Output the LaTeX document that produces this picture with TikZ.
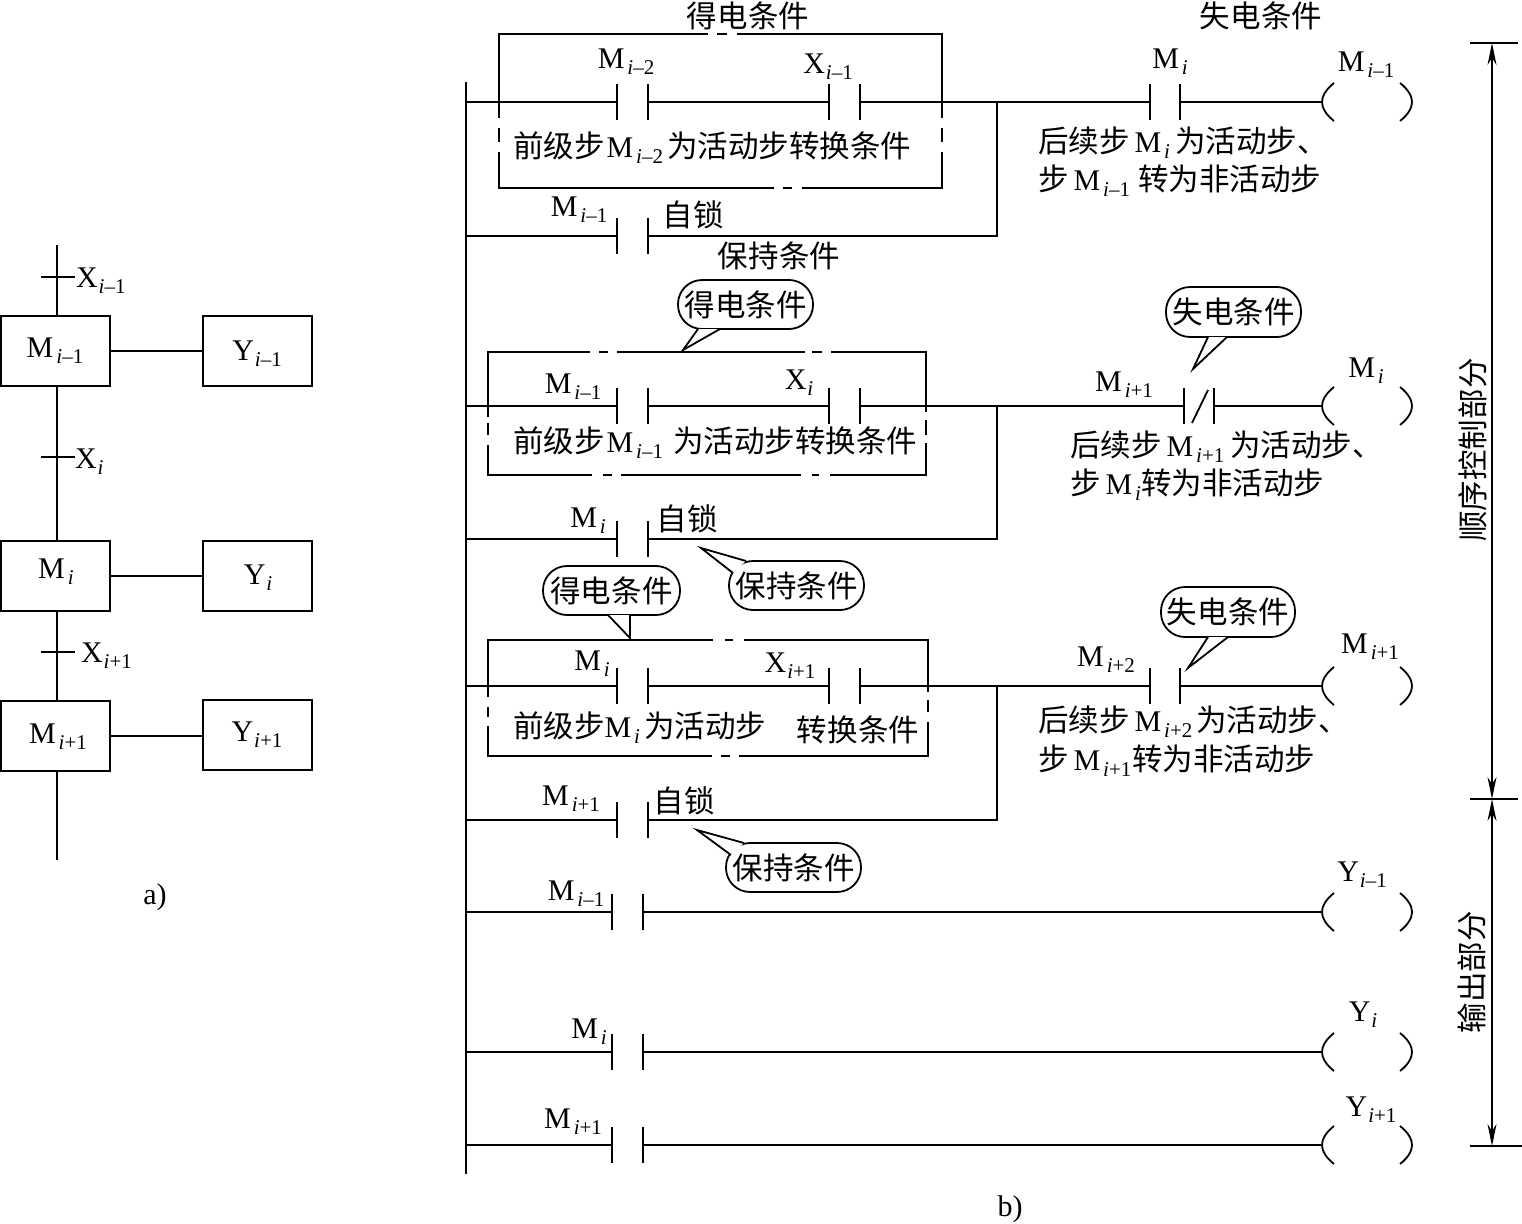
\documentclass[tikz,border=0pt]{standalone}
\usepackage{fontspec}
\setmainfont{Liberation Serif}
\newfontfamily\cjk[Scale=1.017]{Noto Sans CJK SC}
\usetikzlibrary{arrows.meta,calc}
\newcommand{\sbs}[1]{\raisebox{-6pt}{\fontsize{21}{21}\selectfont\textit{i}#1}}
\newcommand{\Ma}[1]{M\hspace{3pt}\sbs{#1}}
\newcommand{\Xa}[1]{X\hspace{1pt}\sbs{#1}}
\newcommand{\Ya}[1]{Y\hspace{1pt}\sbs{#1}}
\newcommand{\zh}[1]{{\cjk #1}}
\newcommand{\contact}[4]{%
  \coordinate (#1l) at (#2,#4);\coordinate (#1r) at (#3,#4);
  \draw[ln] ($(#1l)+(0,-18)$) -- ($(#1l)+(0,18)$);
  \draw[ln] ($(#1r)+(0,-18)$) -- ($(#1r)+(0,18)$);}
\newcommand{\coil}[2]{%
  \coordinate (#1) at (1322,#2);
  \draw[ln] (1334,#2-19) .. controls (1325,#2-12) and (1322,#2-5) .. (#1)
     .. controls (1322,#2+5) and (1325,#2+12) .. (1334,#2+19);
  \draw[ln] (1400,#2-19) .. controls (1409,#2-12) and (1412,#2-5) .. (1412,#2)
     .. controls (1412,#2+5) and (1409,#2+12) .. (1400,#2+19);}
\newcommand{\callout}[7]{% name, x1,y1,x2,y2, text, tail
  \node[bubble,minimum width=#4-#2,minimum height=#5-#3] (#1) at ({(#2+#4)/2},{(#3+#5)/2}) {\zh{#6}};
  \fill[white] #7;
  \draw[ln] #7;}
\tikzset{
  x=1pt,y=-1pt,
  every node/.style={font=\fontsize{30}{34}\selectfont,inner sep=0pt,outer sep=0pt,text=black},
  ln/.style={line width=1.8pt,draw=black,line join=miter},
  blockbox/.style={draw=black,line width=1.8pt,minimum width=109pt,minimum height=70pt},
  ybox/.style={draw=black,line width=1.1pt,minimum width=109pt,minimum height=70pt},
  bubble/.style={draw=black,line width=1.8pt,rounded corners=24pt,fill=white},
  dim/.style={line width=1.6pt,draw=black},
  dimarrow/.style={line width=1.6pt,draw=black,{Stealth[length=22pt,width=9pt]}-{Stealth[length=22pt,width=9pt]}},
  lefttxt/.style={anchor=west}
}
\begin{document}
\begin{tikzpicture}
\useasboundingbox (0,0) rectangle (1522,1223);
% ---------- a) ----------
\node[blockbox] (ma) at (55.5,351) {};
\node[blockbox] (mb) at (55.5,576) {};
\node[blockbox] (mc) at (55.5,736) {};
\node[ybox] (ya) at (257.5,351) {};
\node[ybox] (yb) at (257.5,576) {};
\node[ybox] (yc) at (257.5,735) {};
\begin{scope}[yshift=-2pt]
\node (mat) at (55,349) {\Ma{–1}};
\node (mbt) at (56,570) {\Ma{}};
\node (mct) at (58,735) {\Ma{+1}};
\node (yat) at (257,352) {\Ya{–1}};
\node (ybt) at (258,576) {\Ya{}};
\node (yct) at (257,733) {\Ya{+1}};
\node[lefttxt] (xa) at (76,279) {\Xa{–1}};
\node[lefttxt] (xb) at (75,460) {\Xa{}};
\node[lefttxt] (xc) at (81,654) {\Xa{+1}};
\node (capa) at (155,895) {a)};
\node (capb) at (1010,1207) {b)};
\end{scope}
\coordinate (stop) at (57,245);
\coordinate (sbot) at (57,860);
\draw[ln] (stop) -- (57,316);
\draw[ln] (57,386) -- (57,541);
\draw[ln] (57,611) -- (57,701);
\draw[ln] (57,771) -- (sbot);
\draw[ln] (ma) -- (ya);
\draw[ln] (mb) -- (yb);
\draw[ln] (mc.east) -- (mc.east -| yc.west);
\draw[ln] (41,277) -- (75,277);
\draw[ln] (41,457) -- (75,457);
\draw[ln] (41,652) -- (75,652);
% ---------- rail ----------
\coordinate (railt) at (466,82);
\coordinate (railb) at (466,1174);
\draw[ln] (railt) -- (railb);
% ---------- dashed-gap boxes ----------
\draw[ln] (708,34) -| (499,118);
\draw[ln] (499,128) -- (499,142);
\draw[ln] (499,152) |- (774,188);
\draw[ln] (783,188) -- (792,188);
\draw[ln] (802,188) -| (942,152);
\draw[ln] (942,142) -- (942,128);
\draw[ln] (942,118) |- (737,34);
\draw[ln] (717,34) -- (727,34);
\draw[ln] (590,352) -| (488,417);
\draw[ln] (488,423) -- (488,435);
\draw[ln] (488,445) |- (592,475);
\draw[ln] (603,475) -- (612,475);
\draw[ln] (621,475) -- (801,475);
\draw[ln] (812,475) -- (819,475);
\draw[ln] (830,475) -| (926,443);
\draw[ln] (926,435) -- (926,420);
\draw[ln] (926,412) |- (831,352);
\draw[ln] (812,352) -- (822,352);
\draw[ln] (805,352) -- (617,352);
\draw[ln] (599,352) -- (608,352);
\draw[ln] (713,640) -| (488,697);
\draw[ln] (488,707) -- (488,717);
\draw[ln] (488,726) |- (712,756);
\draw[ln] (721,756) -- (730,756);
\draw[ln] (739,756) -| (928,722);
\draw[ln] (928,712) -- (928,700);
\draw[ln] (928,692) |- (744,640);
\draw[ln] (725,640) -- (733,640);
% ---------- rung 1 ----------
\contact{ca}{617}{648}{102}
\contact{cb}{829}{860}{102}
\contact{cc}{1150}{1180}{102}
\coil{ka}{102}
\coordinate (ra) at (466,102);
\coordinate (ja) at (997,102);
\draw[ln] (ra) -- (cal);
\draw[ln] (car) -- (cbl);
\draw[ln] (cbr) -- (ja) -- (ccl);
\draw[ln] (ccr) -- (ka);
\contact{cd}{617}{648}{236}
\coordinate (rb) at (466,236);
\coordinate (jb) at (997,236);
\draw[ln] (rb) -- (cdl);
\draw[ln] (cdr) -- (jb) -- (ja);
% ---------- rung 2 ----------
\contact{ce}{617}{648}{406}
\contact{cf}{829}{860}{406}
\contact{cg}{1184}{1214}{406}
\draw[ln] (1192,423) -- (1208,390);
\coil{kb}{406}
\coordinate (rc) at (466,406);
\coordinate (jc) at (997,406);
\draw[ln] (rc) -- (cel);
\draw[ln] (cer) -- (cfl);
\draw[ln] (cfr) -- (jc) -- (cgl);
\draw[ln] (cgr) -- (kb);
\contact{ch}{617}{648}{539}
\coordinate (rd) at (466,539);
\coordinate (jd) at (997,539);
\draw[ln] (rd) -- (chl);
\draw[ln] (chr) -- (jd) -- (jc);
% ---------- rung 3 ----------
\contact{ci}{617}{648}{686}
\contact{cj}{829}{860}{686}
\contact{ck}{1150}{1180}{686}
\coil{kc}{686}
\coordinate (re) at (466,686);
\coordinate (je) at (997,686);
\draw[ln] (re) -- (cil);
\draw[ln] (cir) -- (cjl);
\draw[ln] (cjr) -- (je) -- (ckl);
\draw[ln] (ckr) -- (kc);
\contact{cm}{617}{648}{820}
\coordinate (rf) at (466,820);
\coordinate (jf) at (997,820);
\draw[ln] (rf) -- (cml);
\draw[ln] (cmr) -- (jf) -- (je);
% ---------- output rungs ----------
\contact{cn}{612}{643}{912}
\coil{kd}{912}
\coordinate (rg) at (466,912);
\draw[ln] (rg) -- (cnl);
\draw[ln] (cnr) -- (kd);
\contact{co}{612}{643}{1052}
\coil{ke}{1052}
\coordinate (rh) at (466,1052);
\draw[ln] (rh) -- (col);
\draw[ln] (cor) -- (ke);
\contact{cp}{612}{643}{1145}
\coil{kf}{1145}
\coordinate (ri) at (466,1145);
\draw[ln] (ri) -- (cpl);
\draw[ln] (cpr) -- (kf);
% ---------- labels ----------
\node (t1) at (748,16) {\zh{得电条件}};
\node (t2) at (1261,16) {\zh{失电条件}};
\begin{scope}[yshift=-2pt]
\node (t3) at (626,60) {\Ma{–2}};
\node (t4) at (828,65) {\Xa{–1}};
\node (t5) at (1170,60) {\Ma{}};
\node (t6) at (1366,63) {\Ma{–1}};
\node[lefttxt] (t7) at (513,146) {\zh{前级步}\hspace{2pt}\Ma{–2}\hspace{4pt}\zh{为活动步转换条件}};
\node[lefttxt] (t8) at (1038,141) {\zh{后续步}\,\Ma{}\hspace{5pt}\zh{为活动步、}};
\node[lefttxt] (t9) at (1038,179) {\zh{步}\,\Ma{–1}\hspace{8pt}\zh{转为非活动步}};
\node (t10) at (579,208) {\Ma{–1}};
\node (t11) at (693,213) {\zh{自锁}};
\node (t12) at (779,254) {\zh{保持条件}};
\node (t13) at (573,385) {\Ma{–1}};
\node (t14) at (799,381) {\Xa{}};
\node[lefttxt] (t15) at (513,441) {\zh{前级步}\hspace{2pt}\Ma{–1}\hspace{5pt}\,\zh{为活动步转换条件}};
\node (t16) at (1124,383) {\Ma{+1}};
\node (t17) at (1366,369) {\Ma{}};
\node[lefttxt] (t18) at (1070,445) {\zh{后续步}\,\Ma{+1}\hspace{6pt}\zh{为活动步、}};
\node[lefttxt] (t19) at (1070,483) {\zh{步}\,\Ma{}\zh{转为非活动步}};
\node (t20) at (588,519) {\Ma{}};
\node (t21) at (687,517) {\zh{自锁}};
\node (t22) at (592,662) {\Ma{}};
\node (t23) at (790,664) {\Xa{+1}};
\node[lefttxt] (t24) at (513,726) {\zh{前级步}\Ma{}\hspace{4pt}\zh{为活动步}};
\node (t25) at (858,728) {\zh{转换条件}};
\node (t26) at (1106,658) {\Ma{+2}};
\node (t27) at (1370,645) {\Ma{+1}};
\node[lefttxt] (t28) at (1038,720) {\zh{后续步}\,\Ma{+2}\hspace{4pt}\zh{为活动步、}};
\node[lefttxt] (t29) at (1038,759) {\zh{步}\,\Ma{+1}\hspace{1pt}\zh{转为非活动步}};
\node (t30) at (571,797) {\Ma{+1}};
\node (t31) at (684,799) {\zh{自锁}};
\node (t32) at (576,892) {\Ma{–1}};
\node (t33) at (1362,873) {\Ya{–1}};
\node (t34) at (589,1030) {\Ma{}};
\node (t35) at (1363,1013) {\Ya{}};
\node (t36) at (573,1120) {\Ma{+1}};
\node (t37) at (1371,1108) {\Ya{+1}};
\end{scope}
% ---------- callouts ----------
\callout{b1}{678}{280}{813}{329}{得电条件}{(698,329) -- (683,350) -- (720,329)}
\callout{b2}{1166}{287}{1301}{337}{失电条件}{(1208,337) -- (1193,369) -- (1227,337)}
\callout{b3}{729}{561}{864}{610}{保持条件}{(746,561) -- (701,548) -- (733,573)}
\callout{b4}{543}{566}{680}{615}{得电条件}{(608,615) -- (630,638) -- (630,615)}
\callout{b5}{1161}{587}{1295}{637}{失电条件}{(1208,637) -- (1188,668) -- (1228,637)}
\callout{b6}{726}{843}{861}{892}{保持条件}{(744,843) -- (697,830) -- (731,855)}
% ---------- dimensions ----------
\coordinate (da) at (1492,43);
\coordinate (db) at (1492,799);
\coordinate (dc) at (1492,1146);
\draw[dim] (1470,43) -- (1518,43);
\draw[dim] (1470,799) -- (1518,799);
\draw[dim] (1470,1146) -- (1522,1146);
\draw[dimarrow] (da) -- (db);
\draw[dimarrow] (db) -- (dc);
\node[rotate=90] (s1) at (1473,450) {\zh{顺序控制部分}};
\node[rotate=90] (s2) at (1472,972) {\zh{输出部分}};
\end{tikzpicture}
\end{document}
